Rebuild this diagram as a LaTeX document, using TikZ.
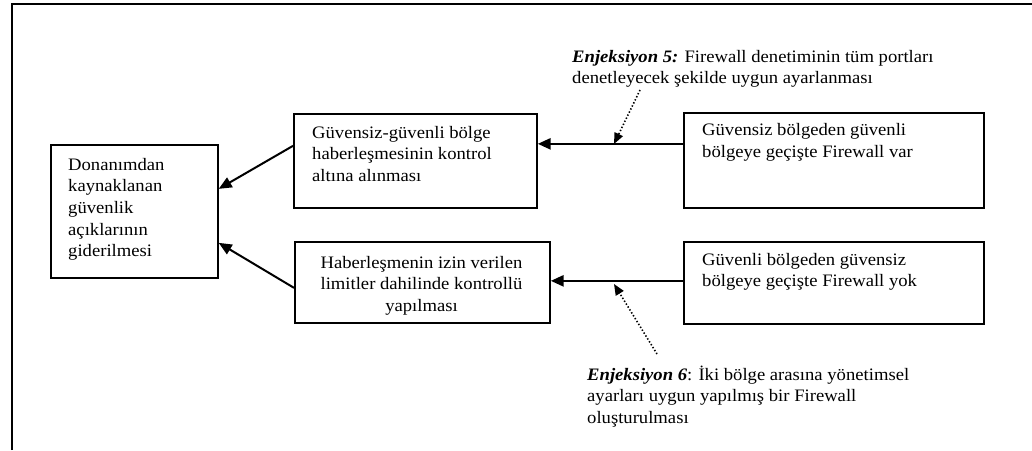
\documentclass[tikz,border=0pt]{standalone}
\usepackage{fontspec}
\setmainfont{Liberation Serif}[FakeStretch=1.065]
\usetikzlibrary{arrows.meta}
\newcommand{\bodysize}{\fontsize{17.5}{21.7}\selectfont}
\begin{document}
\begin{tikzpicture}[x=1pt,y=-1pt,
  box/.style={draw, line width=1.7pt, inner sep=0pt, anchor=north west},
  txt/.style={anchor=north west, inner sep=0pt, align=left, font=\bodysize},
  flow/.style={line width=2.6pt, -{Triangle[length=13pt,width=11pt]}},
  slant/.style={line width=2pt, -{Triangle[length=13pt,width=11pt]}},
  hint/.style={line width=1.6pt, dash pattern=on 1.4pt off 2pt,
               -{Triangle[length=11pt,width=9pt]}}]
\useasboundingbox (0,0) rectangle (1032,450);

% page frame: top and left rules only
\draw[line width=2pt] (12,450) -- (12,4) -- (1032,4);

% boxes
\node[box, minimum width=167pt, minimum height=133pt] (A) at (50,144) {};
\node[box, minimum width=243pt, minimum height=94pt]  (B) at (293,113) {};
\node[box, minimum width=300pt, minimum height=95pt]  (C) at (683,112) {};
\node[box, minimum width=255pt, minimum height=81pt]  (D) at (294,241) {};
\node[box, minimum width=300pt, minimum height=82pt]  (E) at (683,241) {};

% box texts
\node[txt] (At) at (68,154.8) {\strut Donanımdan\\kaynaklanan\\güvenlik\\açıklarının\\giderilmesi};
\node[txt] (Bt) at (312,122.8) {\strut Güvensiz-güvenli bölge\\haberleşmesinin kontrol\\altına alınması};
\node[txt] (Ct) at (702,120.5) {\strut Güvensiz bölgeden güvenli\\bölgeye geçişte Firewall var};
\begin{scope}
  \clip (D.north west) rectangle ([yshift=4pt]D.south east);
  \node[txt, anchor=north, align=center] (Dt) at (421.5,252.8)
    {\strut Haberleşmenin izin verilen\\limitler dahilinde kontrollü\\yapılması};
\end{scope}
\node[txt] (Et) at (702,249.8) {\strut Güvenli bölgeden güvensiz\\bölgeye geçişte Firewall yok};

% injection notes
\node[txt] (I5) at (572,46.8) {\strut\textbf{\textit{Enjeksiyon 5:}} Firewall denetiminin tüm portları\\denetleyecek şekilde uygun ayarlanması};
\node[txt] (I6) at (587,364.8) {\strut\textbf{\textit{Enjeksiyon 6}}: İki bölge arasına yönetimsel\\ayarları uygun yapılmış bir Firewall\\oluşturulması};

% flows
\draw[flow] ([yshift=16.5pt]C.west) -- ([yshift=17pt]B.east);
\draw[flow] ([yshift=2pt]E.west) -- ([yshift=1.5pt]D.east);
\draw[slant] ([yshift=15pt]B.west) -- ([yshift=22.5pt]A.east);
\draw[slant] ([yshift=-5.5pt]D.west) -- ([yshift=-31.5pt]A.east);

% dotted pointers from the notes onto the flows
\coordinate (p5) at (640,90);
\coordinate (q5) at (614,144);
\coordinate (p6) at (657,354);
\coordinate (q6) at (614,284);
\draw[hint] (p5) -- (q5);
\draw[hint] (p6) -- (q6);
\end{tikzpicture}
\end{document}
